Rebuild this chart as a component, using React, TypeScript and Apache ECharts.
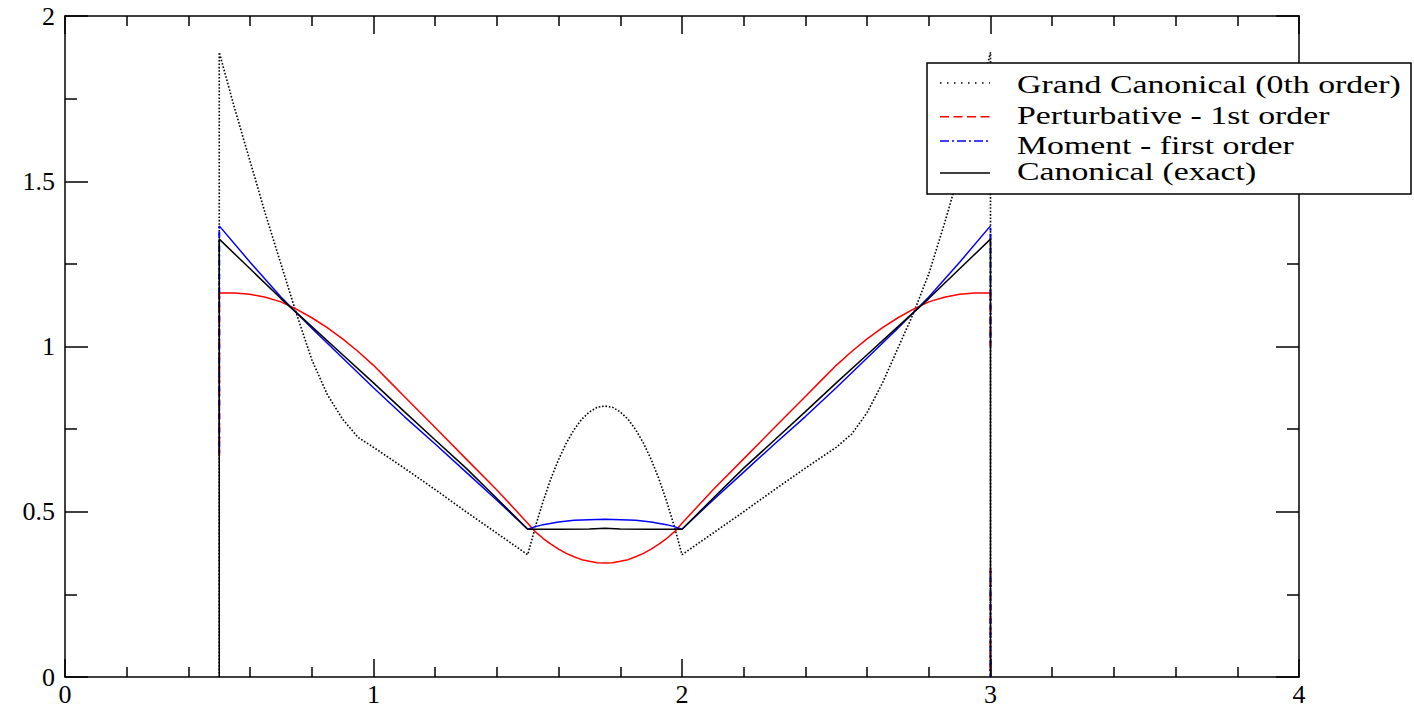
import React, { useEffect, useRef } from "react";
import * as echarts from "echarts";

// ---- data ----
const gcX = [0.5, 0.5, 0.55, 0.6, 0.65, 0.7, 0.75, 0.8, 0.85, 0.9, 0.95, 1.0, 1.1, 1.2, 1.3, 1.4, 1.5, 1.525, 1.55, 1.575, 1.6, 1.625, 1.65, 1.675, 1.7, 1.725, 1.75, 1.775, 1.8, 1.825, 1.85, 1.875, 1.9, 1.925, 1.95, 1.975, 2.0, 2.1, 2.2, 2.3, 2.4, 2.5, 2.55, 2.6, 2.65, 2.7, 2.75, 2.8, 2.85, 2.9, 2.95, 3.0, 3.0];
const gcY = [0, 1.89, 1.72, 1.56, 1.4, 1.25, 1.1, 0.96, 0.855, 0.78, 0.725, 0.695, 0.632, 0.567, 0.5, 0.435, 0.37, 0.456, 0.532, 0.6, 0.658, 0.708, 0.748, 0.78, 0.802, 0.816, 0.82, 0.816, 0.802, 0.78, 0.748, 0.708, 0.658, 0.6, 0.532, 0.456, 0.37, 0.435, 0.5, 0.567, 0.632, 0.695, 0.735, 0.8, 0.89, 0.995, 1.1, 1.22, 1.37, 1.53, 1.7, 1.89, 0];

const ptX = [0.5, 0.55, 0.6, 0.65, 0.7, 0.75, 0.8, 0.85, 0.9, 0.95, 1.0, 1.05, 1.1, 1.2, 1.3, 1.4, 1.5, 1.525, 1.55, 1.575, 1.6, 1.625, 1.65, 1.675, 1.7, 1.725, 1.75, 1.775, 1.8, 1.825, 1.85, 1.875, 1.9, 1.925, 1.95, 1.975, 2.0, 2.1, 2.2, 2.3, 2.4, 2.45, 2.5, 2.55, 2.6, 2.65, 2.7, 2.75, 2.8, 2.85, 2.9, 2.95, 3.0];
const ptY = [1.162, 1.162, 1.158, 1.149, 1.135, 1.113, 1.087, 1.057, 1.023, 0.985, 0.943, 0.896, 0.849, 0.755, 0.66, 0.566, 0.465, 0.439, 0.419, 0.402, 0.387, 0.374, 0.364, 0.355, 0.35, 0.346, 0.345, 0.346, 0.35, 0.355, 0.364, 0.374, 0.387, 0.402, 0.419, 0.439, 0.465, 0.566, 0.66, 0.755, 0.849, 0.896, 0.943, 0.985, 1.023, 1.057, 1.087, 1.113, 1.135, 1.149, 1.158, 1.162, 1.162];
const ptEdgeX = [0.5, 0.5, 3.0, 3.0, 3.0, 3.0, 3.0, 3.0];
const ptEdgeY: (number | string)[] = [0.67, 1.162, "-", 1.162, 1.0, "-", 0.33, 0];

const mmX = [0.5, 0.6, 0.7, 0.8, 0.9, 1.0, 1.1, 1.2, 1.3, 1.4, 1.5, 1.525, 1.55, 1.6, 1.65, 1.7, 1.75, 1.8, 1.85, 1.9, 1.95, 1.975, 2.0, 2.1, 2.2, 2.3, 2.4, 2.5, 2.6, 2.7, 2.8, 2.9, 3.0];
const mmY = [1.365, 1.255, 1.15, 1.055, 0.965, 0.875, 0.788, 0.705, 0.62, 0.535, 0.447, 0.455, 0.461, 0.469, 0.474, 0.476, 0.477, 0.476, 0.474, 0.469, 0.461, 0.455, 0.447, 0.535, 0.62, 0.705, 0.788, 0.875, 0.965, 1.055, 1.15, 1.255, 1.365];
const mmEdgeX = [0.5, 0.5, 3.0, 3.0, 3.0, 3.0, 3.0, 3.0];
const mmEdgeY: (number | string)[] = [0.67, 1.365, "-", 1.365, 1.0, "-", 0.33, 0];

const cnX = [0.5, 0.5, 0.6, 0.7, 0.8, 0.9, 1.0, 1.1, 1.2, 1.3, 1.4, 1.5, 1.6, 1.7, 1.75, 1.8, 1.9, 2.0, 2.1, 2.2, 2.3, 2.4, 2.5, 2.6, 2.7, 2.8, 2.9, 3.0, 3.0];
const cnY = [0, 1.325, 1.235, 1.145, 1.06, 0.975, 0.89, 0.803, 0.717, 0.632, 0.54, 0.447, 0.447, 0.448, 0.45, 0.448, 0.447, 0.447, 0.54, 0.632, 0.717, 0.803, 0.89, 0.975, 1.06, 1.145, 1.235, 1.325, 0];

const xTicks = { min: 0, max: 4, interval: 1 };
const yTicks = { min: 0, max: 2, interval: 0.5 };

const legendNames = [
  "Grand Canonical (0th order)",
  "Perturbative - 1st order",
  "Moment - first order",
  "Canonical (exact)",
];
const legendColors = ["#000000", "#ff0000", "#0000ff", "#000000"];

const zip = (xs: number[], ys: (number | string)[]) => xs.map((x, i) => [x, ys[i]]);

const FONT = "Liberation Serif";

function makeAxis(kind: "x" | "y", pos: string, showLabel: boolean) {
  const t = kind === "x" ? xTicks : yTicks;
  return {
    type: "value",
    position: pos,
    min: t.min,
    max: t.max,
    interval: t.interval,
    axisLine: { show: true, onZero: false, lineStyle: { color: "#000", width: 1.5 } },
    axisTick: { show: true, inside: true, length: kind === "x" ? 18 : 23, lineStyle: { color: "#000", width: 1.5 } },
    minorTick: { show: true, splitNumber: kind === "x" ? 5 : 2, length: kind === "x" ? 10 : 12, lineStyle: { color: "#000", width: 1.5 } },
    splitLine: { show: false },
    minorSplitLine: { show: false },
    axisLabel: {
      show: showLabel,
      color: "#000",
      fontSize: 26,
      fontFamily: FONT,
      margin: kind === "x" ? 4 : 10,
    },
  };
}

export default function App() {
  const ref = useRef<HTMLDivElement>(null);
  useEffect(() => {
    if (!ref.current) return;
    const chart = echarts.init(ref.current, undefined, { renderer: "svg" });
    const lineRows = [83, 116.7, 141, 173];
    const textRows = [84, 115.5, 145, 171];
    const dashes: (number[] | null)[] = [[1.5, 5.5], [9, 4.5], [9, 3, 2, 3], null];
    const legendGraphics: any[] = [
      {
        type: "rect",
        z: 100,
        shape: { x: 927, y: 63, width: 484, height: 131 },
        style: { fill: "#fff", stroke: "#000", lineWidth: 1.5 },
      },
    ];
    legendNames.forEach((name, i) => {
      legendGraphics.push({
        type: "line",
        z: 101,
        shape: { x1: 940, y1: lineRows[i], x2: 990, y2: lineRows[i] },
        style: { stroke: legendColors[i], lineWidth: 1.5, lineDash: dashes[i] || undefined },
      });
      legendGraphics.push({
        type: "text",
        z: 101,
        x: 1017,
        y: textRows[i],
        scaleX: 1.3,
        style: {
          text: name,
          fontSize: 26,
          fontFamily: FONT,
          fill: "#000",
          align: "left",
          verticalAlign: "middle",
        },
      });
    });

    chart.setOption({
      animation: false,
      backgroundColor: "#fff",
      grid: { left: 65, right: 115, top: 16, bottom: 32, containLabel: false },
      xAxis: [makeAxis("x", "bottom", true), makeAxis("x", "top", false)],
      yAxis: [makeAxis("y", "left", true), makeAxis("y", "right", false)],
      series: [
        {
          name: legendNames[0],
          type: "line",
          data: zip(gcX, gcY),
          symbol: "none",
          lineStyle: { color: "#000", width: 1.6, type: [1.6, 1.8] },
          z: 2,
        },
        {
          name: legendNames[1],
          type: "line",
          data: zip(ptX, ptY),
          symbol: "none",
          lineStyle: { color: "#ff0000", width: 1.5 },
          z: 3,
        },
        {
          name: legendNames[1] + " edges",
          type: "line",
          data: zip(ptEdgeX, ptEdgeY),
          symbol: "none",
          connectNulls: false,
          lineStyle: { color: "#ff0000", width: 2, type: [7, 5] },
          z: 3,
        },
        {
          name: legendNames[2],
          type: "line",
          data: zip(mmX, mmY),
          symbol: "none",
          lineStyle: { color: "#0000ff", width: 1.5 },
          z: 4,
        },
        {
          name: legendNames[2] + " edges",
          type: "line",
          data: zip(mmEdgeX, mmEdgeY),
          symbol: "none",
          connectNulls: false,
          lineStyle: { color: "#0000ff", width: 2, type: [6, 3, 2, 3], dashOffset: 6 },
          z: 4,
        },
        {
          name: legendNames[3],
          type: "line",
          data: zip(cnX, cnY),
          symbol: "none",
          lineStyle: { color: "#000", width: 1.5 },
          z: 5,
        },
      ],
      graphic: legendGraphics,
    });
    return () => chart.dispose();
  }, []);
  return (
    <div
      ref={ref}
      style={{ position: "absolute", left: 0, top: 0, width: 1414, height: 709, background: "#fff" }}
    />
  );
}
